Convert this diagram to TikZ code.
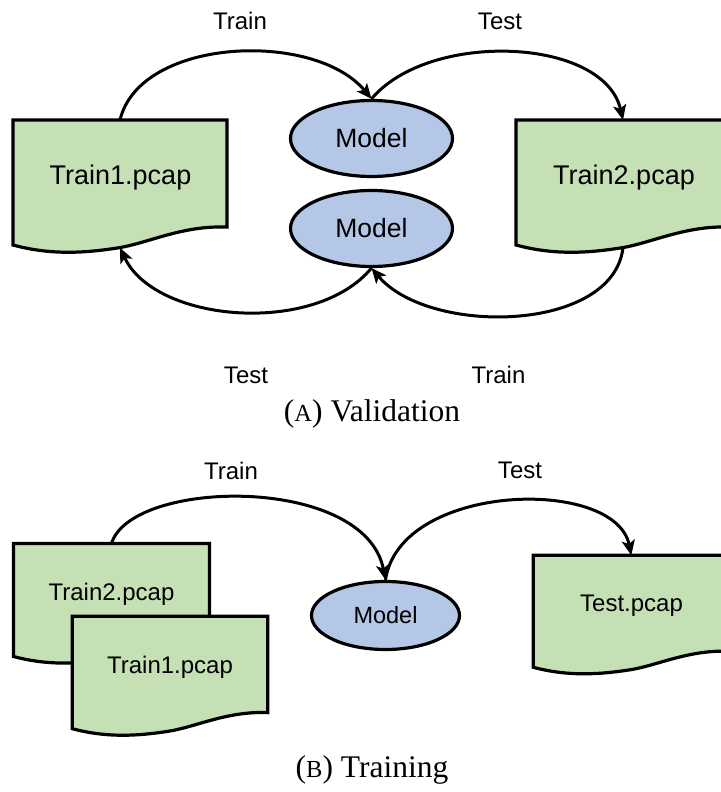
\documentclass[tikz,border=0pt]{standalone}
\usepackage{fontspec}
\setmainfont{Liberation Sans}
\newfontfamily\capfont{Liberation Serif}
\usetikzlibrary{arrows.meta,shapes.geometric}

\definecolor{docgreen}{HTML}{C5E0B4}
\definecolor{modelblue}{HTML}{B4C7E7}

% small capital letter for the sub-figure tag
\newcommand{\tagletter}[1]{{\fontsize{24.5}{28}\selectfont #1}}

% A capture file drawn as a "document" shape: name, left, top, width, height
\newcommand{\pcapdoc}[5]{%
  \begin{scope}[shift={(#2,#3)}, x=#4pt, y=#5pt]
    \filldraw[docframe] (0,0) -- (1,0) -- (1,-0.857)
      .. controls (0.791,-0.841) and (0.628,-0.988) .. (0.488,-1.024)
      .. controls (0.349,-1.06) and (0.186,-1.087) .. (0,-1) -- cycle;
    \coordinate (#1-n) at (0.5,0);
    \coordinate (#1-s) at (0.5,-1.022);
  \end{scope}}

\tikzset{
  docframe/.style={fill=docgreen, draw=black, line width=3.2pt},
  model/.style={ellipse, draw=black, fill=modelblue, line width=3.2pt, inner sep=0pt},
  doclabel/.style={anchor=base, inner sep=0pt},
  flowlabel/.style={anchor=base, inner sep=0pt, font=\fontsize{24}{28}\selectfont},
  caption/.style={anchor=base, inner sep=0pt, font=\capfont\fontsize{31.5}{36}\selectfont},
  flow/.style={line width=3pt, -{Stealth[length=15pt, width=13pt, inset=3.5pt]}},
}

\begin{document}
\begin{tikzpicture}[x=1pt, y=1pt]
\useasboundingbox (0,0) rectangle (720,792);

% ---------- (A) Validation ----------
\pcapdoc{t1d}{13}{672}{214}{125}
\pcapdoc{t2d}{516}{672}{214}{125}
\node[doclabel, font=\fontsize{27}{32}\selectfont] (t1) at (120.5,607) {Train1.pcap};
\node[doclabel, font=\fontsize{27}{32}\selectfont] (t2) at (624,607) {Train2.pcap};

\node[model, minimum width=162pt, minimum height=76pt, font=\fontsize{26.5}{30}\selectfont] (m1) at (371.5,653.5) {Model};
\node[model, minimum width=162pt, minimum height=76pt, font=\fontsize{26.5}{30}\selectfont] (m2) at (371.5,563.5) {Model};

\draw[flow] (t1d-n) .. controls +(20,83) and +(-56.5,68.5) .. (m1.north);
\draw[flow] (m1.north) .. controls +(57.5,68.5) and +(-19,83) .. (t2d-n);
\draw[flow] (m2.south) .. controls +(-56.5,-68) and +(35,-75) .. (t1d-s);
\draw[flow] (t2d-s) .. controls +(-10,-85) and +(57.5,-68) .. (m2.south);

\node[flowlabel] (lA1) at (240,762) {Train};
\node[flowlabel] (lA2) at (500,762) {Test};
\node[flowlabel] (lA3) at (246,408) {Test};
\node[flowlabel] (lA4) at (498.5,408) {Train};

\node[caption] (capA) at (372,370) {(\tagletter{A}) Validation};

% ---------- (B) Training ----------
\pcapdoc{b2d}{13.5}{248.5}{196}{113}
\pcapdoc{b1d}{72.3}{175.7}{195.4}{112.4}
\pcapdoc{btd}{533.3}{236.7}{196}{112}
\node[doclabel, font=\fontsize{24}{28}\selectfont] (b2) at (111.5,191) {Train2.pcap};
\node[doclabel, font=\fontsize{24}{28}\selectfont] (b1) at (170,118) {Train1.pcap};
\node[doclabel, font=\fontsize{24}{28}\selectfont] (bt) at (631.5,180) {Test.pcap};

\node[model, minimum width=148pt, minimum height=68pt, font=\fontsize{23.5}{28}\selectfont] (m3) at (385.5,176.5) {Model};

\draw[flow] (b2d-n) .. controls +(20,65) and +(-20.5,105.5) .. (m3.north);
\draw[flow] (m3.north) .. controls +(14.5,97.5) and +(-16,79) .. (btd-n);

\node[flowlabel] (lB1) at (231,312) {Train};
\node[flowlabel] (lB2) at (520,313) {Test};

\node[caption] (capB) at (372,14) {(\tagletter{B}) Training};
\end{tikzpicture}
\end{document}
